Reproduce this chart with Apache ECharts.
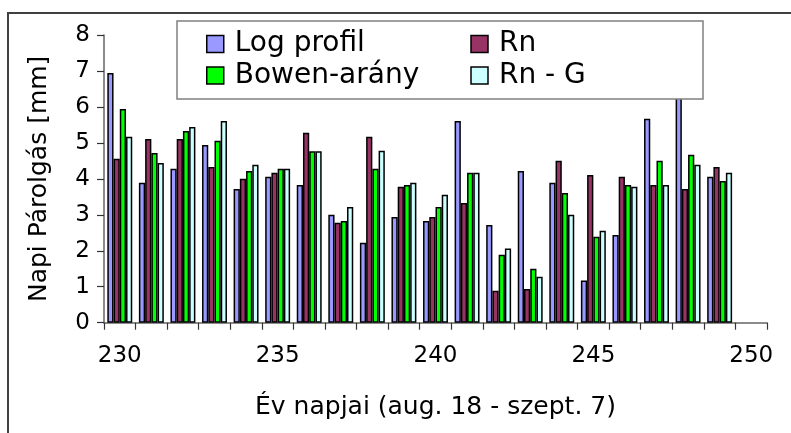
<!DOCTYPE html>
<html>
<head>
<meta charset="utf-8">
<script src="https://cdn.jsdelivr.net/npm/echarts@6/dist/echarts.min.js"></script>
<style>
  html, body { margin: 0; padding: 0; background: #fff; }
  #chart { width: 791px; height: 433px; }
</style>
</head>
<body>
<div id="chart"></div>
<script>
// Day of year, Aug 18 - Sep 7
const days = ['230','231','232','233','234','235','236','237','238','239','240',
              '241','242','243','244','245','246','247','248','249','250'];

// Daily evaporation estimates [mm]
const logProfil = [6.94, 3.89, 4.28, 4.94, 3.72, 4.06, 3.83, 3.00, 2.22, 2.94, 2.83,
                   5.61, 2.72, 4.22, 3.89, 1.17, 2.44, 5.67, 6.60, 4.06, null];
const rn        = [4.56, 5.11, 5.11, 4.33, 4.00, 4.17, 5.28, 2.78, 5.17, 3.78, 2.94,
                   3.33, 0.89, 0.94, 4.50, 4.11, 4.06, 3.83, 3.72, 4.33, null];
const bowen     = [5.94, 4.72, 5.33, 5.06, 4.22, 4.28, 4.77, 2.83, 4.28, 3.83, 3.22,
                   4.17, 1.89, 1.50, 3.61, 2.39, 3.83, 4.50, 4.67, 3.94, null];
const rnG       = [5.17, 4.44, 5.44, 5.61, 4.39, 4.28, 4.77, 3.22, 4.78, 3.89, 3.56,
                   4.17, 2.06, 1.28, 3.00, 2.56, 3.78, 3.83, 4.39, 4.17, null];

const seriesNames = ['Log profil', 'Rn', 'Bowen-arány', 'Rn - G'];
const seriesColors = ['#9999FF', '#993366', '#00FF00', '#CCFFFF'];
const seriesData = [logProfil, rn, bowen, rnG];
// legend reading order: two rows, two columns
const legendOrder = ['Log profil', 'Rn', 'Bowen-arány', 'Rn - G'];
const leftColumn = ['Log profil', 'Bowen-arány'];

const FONT = 'DejaVu Sans';

const chart = echarts.init(document.getElementById('chart'), null, { renderer: 'canvas' });

const legendText = { fontFamily: FONT, fontSize: 28, color: '#000', lineHeight: 28, padding: [0, 0, 0, 6] };

chart.setOption({
  animation: false,
  backgroundColor: '#fff',
  textStyle: { fontFamily: FONT },
  grid: { left: 104, right: 24, top: 35, bottom: 110.3, containLabel: false },
  graphic: [
    {
      // outer frame
      type: 'rect', z: -10, silent: true,
      shape: { x: 8, y: 13, width: 800, height: 440 },
      style: { fill: 'none', stroke: '#404040', lineWidth: 2 }
    }
  ],
  legend: {
    orient: 'horizontal',
    left: 177,
    top: 21,
    width: 480,
    padding: [9, 29, 9.5, 29],
    backgroundColor: '#fff',
    borderColor: '#808080',
    borderWidth: 1.5,
    borderRadius: 0,
    itemWidth: 17,
    itemHeight: 17,
    itemGap: 3.5,
    icon: 'rect',
    selectedMode: false,
    data: legendOrder,
    itemStyle: { borderColor: '#000', borderWidth: 1.5 },
    formatter: name => (leftColumn.indexOf(name) >= 0 ? '{a|' : '{b|') + name + '}',
    textStyle: {
      fontFamily: FONT, fontSize: 28, color: '#000', lineHeight: 28,
      rich: {
        a: Object.assign({ width: 232 }, legendText),
        b: Object.assign({ width: 175 }, legendText)
      }
    }
  },
  xAxis: {
    type: 'category',
    data: days,
    boundaryGap: true,
    name: 'Év napjai (aug. 18 - szept. 7)',
    nameLocation: 'middle',
    nameGap: 72,
    nameTextStyle: { fontFamily: FONT, fontSize: 25, color: '#000' },
    axisLine: { lineStyle: { color: '#666', width: 1.5 } },
    axisTick: { show: true, interval: 0, length: 7, lineStyle: { color: '#333', width: 1.2 } },
    axisLabel: { interval: 4, margin: 22, fontFamily: FONT, fontSize: 23, color: '#000' },
    splitLine: { show: false }
  },
  yAxis: {
    type: 'value',
    min: 0, max: 8, interval: 1,
    name: 'Napi Párolgás [mm]',
    nameLocation: 'middle',
    nameGap: 52,
    nameTextStyle: { fontFamily: FONT, fontSize: 25, color: '#000' },
    axisLine: { show: true, lineStyle: { color: '#666', width: 1.5 } },
    axisTick: { show: true, length: 7, lineStyle: { color: '#333', width: 1.2 } },
    axisLabel: { margin: 14, fontFamily: FONT, fontSize: 23, color: '#000' },
    splitLine: { show: false }
  },
  series: seriesNames.map((name, i) => ({
    name: name,
    type: 'bar',
    z: 1,
    data: seriesData[i],
    barGap: '0%',
    barCategoryGap: '21%',
    itemStyle: { color: seriesColors[i], borderColor: '#000', borderWidth: 1.5 }
  }))
});
</script>
</body>
</html>
